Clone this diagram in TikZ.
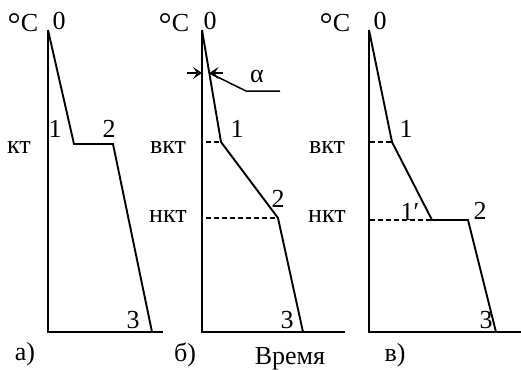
\documentclass[tikz,border=0pt]{standalone}
\usepackage{fontspec}
\setmainfont{Liberation Serif}
\usetikzlibrary{arrows.meta}
\newcommand{\degC}{\raisebox{-3.5pt}{\fontsize{33}{33}\selectfont °}C}
\begin{document}
\begin{tikzpicture}[x=1pt,y=-1pt,
  lbl/.style={anchor=base,inner sep=0pt,font=\fontsize{26}{30}\selectfont},
  ax/.style={line width=2.1pt},
  crv/.style={line width=1.9pt,line join=miter},
  dsh/.style={line width=1.9pt,dash pattern=on 5pt off 3pt},
  thin/.style={line width=1.5pt}]
\useasboundingbox (0,0) rectangle (521,369);
% ---------- panel a ----------
\coordinate (aT) at (48,30);
\coordinate (aO) at (48,332);
\coordinate (aE) at (163,332);
\coordinate (a1) at (74,144);
\coordinate (a2) at (113,144);
\coordinate (a3) at (152,332);
\draw[ax] (aT) -- (aO) -- (aE);
\draw[crv] (aT) -- (a1) -- (a2) -- (a3);
\node[lbl] (aC) at (23,32) {\degC};
\node[lbl] (a0l) at (59,30) {0};
\node[lbl] (akt) at (19,153) {кт};
\node[lbl] (a1l) at (55,137) {1};
\node[lbl] (a2l) at (109,137) {2};
\node[lbl] (a3l) at (133,328) {3};
\node[lbl] (acap) at (25,360) {а)};
% ---------- panel b ----------
\coordinate (bT) at (202,30);
\coordinate (bO) at (202,332);
\coordinate (bE) at (345,332);
\coordinate (b1) at (221,142);
\coordinate (b2) at (278,218);
\coordinate (b3) at (303,332);
\coordinate (bd1) at (206,142);
\coordinate (bd2) at (206,218);
\coordinate (bx) at (209.5,73);
\coordinate (bax) at (202,73);
\coordinate (bal) at (187,73);
\coordinate (bar) at (223,73);
\coordinate (bk) at (246,91);
\coordinate (bk2) at (280,91);
\draw[ax] (bT) -- (bO) -- (bE);
\draw[crv] (bT) -- (b1) -- (b2) -- (b3);
\draw[dsh] (bd1) -- (b1);
\draw[dsh] (bd2) -- (b2);
\draw[thin,-{Stealth[length=9pt,width=12pt,inset=4pt]}] (bal) -- (bax);
\draw[thin,-{Stealth[length=9pt,width=12pt,inset=4pt]}] (bar) -- (bx);
\draw[thin] (bx) -- (bk) -- (bk2);
\node[lbl] (bC) at (174,32) {\degC};
\node[lbl] (b0l) at (210,30) {0};
\node[lbl] (balpha) at (257,82) {α};
\node[lbl] (bvkt) at (168,153) {вкт};
\node[lbl] (bnkt) at (168,222) {нкт};
\node[lbl] (b1l) at (237,137) {1};
\node[lbl] (b2l) at (278,207) {2};
\node[lbl] (b3l) at (287,328) {3};
\node[lbl] (bcap) at (185,361) {б)};
\node[lbl] (btime) at (290,364) {Время};
% ---------- panel c ----------
\coordinate (cT) at (369,30);
\coordinate (cO) at (369,332);
\coordinate (cE) at (521,332);
\coordinate (c1) at (392,142);
\coordinate (c1p) at (432,220);
\coordinate (c2) at (468,220);
\coordinate (c3) at (496,332);
\coordinate (cd1) at (370,142);
\coordinate (cd2) at (370,220);
\coordinate (cd2e) at (442,220);
\draw[ax] (cT) -- (cO) -- (cE);
\draw[crv] (cT) -- (c1) -- (c1p) -- (c2) -- (c3);
\draw[dsh] (cd1) -- (c1);
\draw[dsh] (cd2) -- (cd2e);
\node[lbl] (cC) at (335,32) {\degC};
\node[lbl] (c0l) at (380,30) {0};
\node[lbl] (cvkt) at (327,153) {вкт};
\node[lbl] (cnkt) at (327,222) {нкт};
\node[lbl] (c1l) at (406,137) {1};
\node[lbl] (c1pl) at (410,220) {1′};
\node[lbl] (c2l) at (480,219) {2};
\node[lbl] (c3l) at (486,328) {3};
\node[lbl] (ccap) at (395,361) {в)};
\end{tikzpicture}
\end{document}
